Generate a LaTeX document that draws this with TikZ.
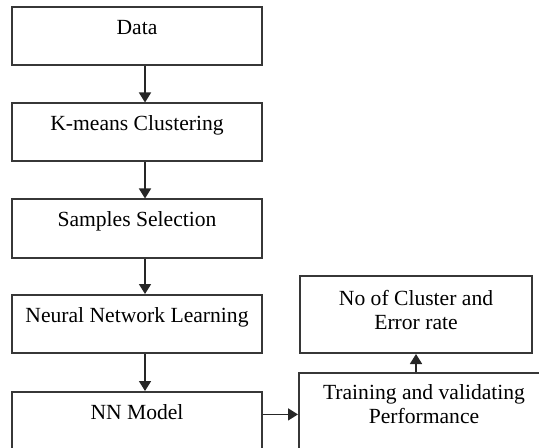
\documentclass[tikz,border=0pt]{standalone}
\usepackage{fontspec}
\setmainfont{Liberation Serif}
\usetikzlibrary{arrows.meta, positioning}
\definecolor{boxline}{RGB}{55, 55, 55}

\begin{document}
\begin{tikzpicture}[
    x=0.5pt, y=-0.5pt,
    box/.style={rectangle, draw=boxline, line width=1pt, inner sep=0pt, minimum width=125pt, text height=13.5pt, text depth=15.5pt, align=center, font=\fontsize{10.8pt}{12pt}\selectfont},
    arrow/.style={-{Triangle[width=6pt, length=5pt]}, line width=0.8pt, draw=black!85}
]
    \useasboundingbox (0, 0) rectangle (539, 448);
    \clip (0, 0) rectangle (539, 448);

    % Left column
    \node[box] (data) at (137, 36.5) {Data};
    \node[box] (kmeans) at (137, 132.5) {K-means Clustering};
    \node[box] (samples) at (137, 228.5) {Samples Selection};
    \node[box] (nnlearn) at (137, 324) {Neural Network Learning};
    \node[box, text depth=21.5pt] (nnmodel) at (137, 427) {NN Model};

    % Right column
    \node[box, minimum width=116pt, text height=26.5pt, text depth=12pt] (cluster) at (416, 314.5) {No of Cluster and\\Error rate};
    \node[box, text height=25pt, text depth=20pt] (train) at (424, 418) {Training and validating\\Performance};

    % Arrows
    \draw[arrow] ([xshift=4pt]data.south) -- ([xshift=4pt]kmeans.north);
    \draw[arrow] ([xshift=4pt]kmeans.south) -- ([xshift=4pt]samples.north);
    \draw[arrow] ([xshift=4pt]samples.south) -- ([xshift=4pt]nnlearn.north);
    \draw[arrow] ([xshift=4pt]nnlearn.south) -- ([xshift=4pt]nnmodel.north);
    \draw[arrow] (nnmodel.mid east) -- (nnmodel.mid east -| train.west);
    \draw[arrow] (train.north -| cluster.south) -- (cluster.south);
\end{tikzpicture}
\end{document}
